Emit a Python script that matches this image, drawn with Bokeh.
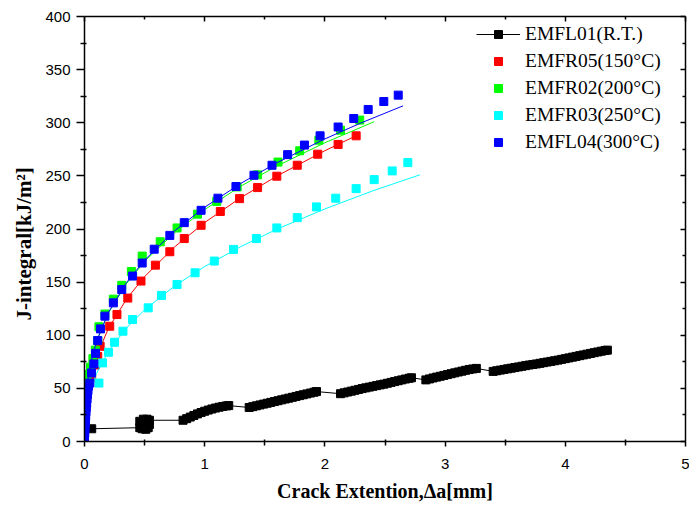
import math
from bokeh.plotting import figure
from bokeh.models import (LinearAxis, FixedTicker, Legend, LegendItem, Title, Range1d,
                          CustomJSTickFormatter)
from bokeh.embed import file_html
from bokeh.resources import INLINE

# ---------------- data ----------------
x_ticks = [0, 1, 2, 3, 4, 5]
x_minor = [0.5, 1.5, 2.5, 3.5, 4.5]
y_ticks = [0, 50, 100, 150, 200, 250, 300, 350, 400]
y_minor = [25, 75, 125, 175, 225, 275, 325, 375]

series_names = ["EMFL01(R.T.)", "EMFR05(150°C)", "EMFR02(200°C)", "EMFR03(250°C)", "EMFL04(300°C)"]

# EMFL01 (R.T.) - dense measured points
rt_x = [0.06,
        0.46, 0.48, 0.51, 0.53, 0.54, 0.51, 0.47, 0.46, 0.49, 0.52, 0.54,
        0.82, 0.85, 0.88, 0.91, 0.94, 0.97, 1.00, 1.03, 1.06, 1.09, 1.12, 1.15, 1.18, 1.20,
        1.37, 1.40, 1.43, 1.46, 1.49, 1.52, 1.55, 1.58, 1.61, 1.64, 1.67, 1.70, 1.73, 1.76, 1.79, 1.82, 1.85, 1.88, 1.91, 1.93,
        2.13, 2.16, 2.19, 2.22, 2.25, 2.28, 2.31, 2.34, 2.37, 2.40, 2.43, 2.46, 2.49, 2.52, 2.55, 2.58, 2.61, 2.64, 2.67, 2.70, 2.72,
        2.84, 2.87, 2.90, 2.93, 2.96, 2.99, 3.02, 3.05, 3.08, 3.11, 3.14, 3.17, 3.20, 3.23, 3.26,
        3.40, 3.43, 3.46, 3.49, 3.52, 3.55, 3.58, 3.61, 3.64, 3.67, 3.70, 3.73, 3.76, 3.79, 3.82, 3.85, 3.88,
        3.91, 3.94, 3.97, 4.00, 4.03, 4.06, 4.09, 4.12, 4.15, 4.18, 4.21, 4.24, 4.27, 4.30, 4.33, 4.35]
rt_j = [12,
        13, 12, 11.5, 13, 16, 17, 16, 19, 21, 21, 20,
        20, 21.5, 23, 24.5, 26, 27.3, 28.5, 29.6, 30.6, 31.5, 32.3, 33, 33.5, 33.8,
        32.0, 32.8, 33.6, 34.4, 35.2, 36.0, 36.8, 37.6, 38.4, 39.2, 40.0, 40.8, 41.6, 42.4, 43.2, 44.0, 44.8, 45.6, 46.4, 47.0,
        45.0, 45.8, 46.6, 47.4, 48.2, 49.0, 49.8, 50.5, 51.2, 51.9, 52.6, 53.3, 54.0, 54.8, 55.6, 56.4, 57.2, 58.0, 58.8, 59.5, 60.0,
        58.0, 58.9, 59.8, 60.6, 61.4, 62.2, 63.0, 63.8, 64.6, 65.4, 66.2, 67.0, 67.7, 68.3, 68.8,
        66.0, 66.6, 67.2, 67.8, 68.4, 69.0, 69.6, 70.2, 70.8, 71.4, 72.0, 72.5, 73.0, 73.6, 74.2, 74.8, 75.4,
        76.0, 76.6, 77.3, 78.0, 78.7, 79.4, 80.1, 80.8, 81.5, 82.2, 82.9, 83.6, 84.3, 85.0, 85.7, 86.0]

# EMFR05 (150 C)
red_x = [0.06, 0.09, 0.11, 0.13, 0.21, 0.27, 0.36, 0.47, 0.59, 0.71, 0.83, 0.97, 1.13, 1.29, 1.44, 1.60, 1.77, 1.94, 2.11, 2.26]
red_j = [60, 72, 80, 89.6, 108.5, 119.5, 135, 151, 166, 178.6, 191, 203.5, 216.5, 228.6, 239, 249.7, 260, 270.4, 279.6, 287.7]
red_fit_x = [0.02, 0.05, 0.1, 0.2, 0.35, 0.5, 0.75, 1.0, 1.3, 1.6, 2.0, 2.26]
red_fit_j = [41.5, 60.4, 80.3, 106.6, 134.1, 155.2, 183.2, 206.1, 229.5, 249.8, 273.7, 287.8]

# EMFR02 (200 C)
green_x = [0.015, 0.022, 0.05, 0.07, 0.09, 0.11, 0.12, 0.17, 0.24, 0.31, 0.39, 0.48, 0.63, 0.77, 0.94, 1.10, 1.27, 1.44, 1.61, 1.79, 1.95, 2.13, 2.29]
green_j = [56, 63, 70, 78, 86, 95, 108, 120, 134, 147, 160, 174.5, 188, 201, 214, 226, 239.6, 251, 263, 273.6, 283.6, 293, 302.5]
green_fit_x = [0.02, 0.05, 0.1, 0.2, 0.35, 0.5, 0.75, 1.0, 1.3, 1.6, 2.0, 2.41]
green_fit_j = [52.3, 73, 94.1, 121.2, 148.7, 169.5, 196.5, 218.3, 240.3, 259.2, 281.2, 301]

# EMFR03 (250 C)
cyan_x = [0.12, 0.15, 0.20, 0.25, 0.32, 0.40, 0.53, 0.64, 0.77, 0.92, 1.08, 1.24, 1.43, 1.60, 1.77, 1.93, 2.09, 2.26, 2.41, 2.56, 2.69]
cyan_j = [55, 74, 84, 93.4, 103.8, 114.8, 125.8, 137.5, 147.8, 158.8, 169.8, 180.8, 191, 201, 210.7, 220.8, 229, 238, 246.5, 254.7, 262.5]
cyan_fit_x = [0.02, 0.05, 0.1, 0.2, 0.35, 0.5, 0.75, 1.0, 1.3, 1.6, 2.0, 2.4, 2.79]
cyan_fit_j = [33, 48.1, 64, 85.1, 107, 123.9, 146.4, 164.7, 183.4, 199.8, 218.9, 236, 251]

# EMFL04 (300 C)
blue_x = [0.000, 0.000, 0.002, 0.004, 0.006, 0.008, 0.010, 0.012, 0.015, 0.018, 0.021, 0.025, 0.029, 0.033,
          0.044, 0.058, 0.078, 0.092, 0.11, 0.133, 0.17, 0.24, 0.31, 0.40, 0.48, 0.58, 0.71, 0.83, 0.97,
          1.11, 1.26, 1.41, 1.56, 1.69, 1.83, 1.96, 2.11, 2.24, 2.36, 2.49, 2.61]
blue_j = [0, 4, 8, 12, 16, 20, 24, 28, 32, 36, 40, 44, 48, 52,
          55, 64.5, 73, 83, 95, 106, 118, 130.5, 143, 155.7, 168, 181, 194, 206, 217.6,
          229, 240, 250.6, 260, 270, 279, 287.7, 296, 304, 312.5, 320, 326]
blue_fit_x = [0.02, 0.05, 0.1, 0.2, 0.35, 0.5, 0.75, 1.0, 1.3, 1.6, 2.0, 2.3, 2.65]
blue_fit_j = [52, 73, 94.3, 121.7, 149.7, 170.7, 198.3, 220.5, 242.9, 262.3, 284.8, 299.8, 315.9]

# ---------------- figure ----------------
p = figure(width=689, height=507, output_backend="svg", toolbar_location=None,
           x_range=Range1d(0, 5), y_range=Range1d(0, 400),
           min_border_left=84, min_border_right=4, min_border_top=16, min_border_bottom=66)
p.grid.visible = False
p.outline_line_color = None
p.background_fill_color = "white"

TICK_FONT = "Liberation Sans"
SERIF = "Liberation Serif"

xa = p.xaxis[0]
xa.ticker = FixedTicker(ticks=x_ticks, minor_ticks=x_minor)
xa.axis_label = "Crack Extention,Δa[mm]"
xa.axis_label_text_font = SERIF
xa.axis_label_text_font_style = "bold"
xa.axis_label_text_font_size = "20px"
xa.axis_label_text_color = "black"
xa.axis_label_standoff = 8
xa.major_label_text_font = TICK_FONT
xa.major_label_text_font_size = "15px"
xa.major_label_standoff = 12

ya = p.yaxis[0]
ya.ticker = FixedTicker(ticks=y_ticks, minor_ticks=y_minor)
ya.major_label_text_font = TICK_FONT
ya.major_label_text_font_size = "15px"
ya.major_label_standoff = 6

for ax, out in ((xa, 5), (ya, 8)):
    ax.axis_line_width = 1.5
    ax.axis_line_color = "black"
    ax.major_tick_line_width = 1.5
    ax.minor_tick_line_width = 1.5
    ax.major_tick_line_color = "black"
    ax.minor_tick_line_color = "black"
    ax.major_tick_out = out
    ax.major_tick_in = 0
    ax.minor_tick_out = 4
    ax.minor_tick_in = 2
    ax.major_label_text_color = "black"

blank = CustomJSTickFormatter(code="return '';")
top = LinearAxis(ticker=FixedTicker(ticks=x_ticks, minor_ticks=x_minor), formatter=blank)
right = LinearAxis(ticker=FixedTicker(ticks=y_ticks, minor_ticks=y_minor), formatter=blank)
for ax in (top, right):
    ax.axis_line_width = 1.5
    ax.axis_line_color = "black"
    ax.major_tick_line_width = 1.5
    ax.minor_tick_line_width = 1.5
    ax.major_tick_out = 0
    ax.major_tick_in = 5
    ax.minor_tick_out = 0
    ax.minor_tick_in = 3
    ax.major_label_standoff = 0
p.add_layout(top, "above")
p.add_layout(right, "right")

# y axis title, placed a little below the frame centre as in the original
p.add_layout(Title(text="J-integral[kJ/m²]", text_font=SERIF, text_font_style="bold",
                   text_font_size="21px", align="left", offset=121, standoff=13,
                   text_color="black"), "left")

MS = 8
rt_line = p.line(rt_x, rt_j, line_color="black", line_width=1)
rt_pts = p.scatter(rt_x, rt_j, marker="square", size=MS, fill_color="black", line_color="black")

p.line(red_fit_x, red_fit_j, line_color="#FF0000", line_width=1)
red_pts = p.scatter(red_x, red_j, marker="square", size=MS, fill_color="#FF0000", line_color="#FF0000")

p.line(green_fit_x, green_fit_j, line_color="#00FF00", line_width=1)
green_pts = p.scatter(green_x, green_j, marker="square", size=MS, fill_color="#00FF00", line_color="#00FF00")

p.line(cyan_fit_x, cyan_fit_j, line_color="#00FFFF", line_width=1)
cyan_pts = p.scatter(cyan_x, cyan_j, marker="square", size=MS, fill_color="#00FFFF", line_color="#00FFFF")

p.line(blue_fit_x, blue_fit_j, line_color="#0000FF", line_width=1)
blue_pts = p.scatter(blue_x, blue_j, marker="square", size=MS, fill_color="#0000FF", line_color="#0000FF")

legend = Legend(items=[
    LegendItem(label=series_names[0], renderers=[rt_line, rt_pts]),
    LegendItem(label=series_names[1], renderers=[red_pts]),
    LegendItem(label=series_names[2], renderers=[green_pts]),
    LegendItem(label=series_names[3], renderers=[cyan_pts]),
    LegendItem(label=series_names[4], renderers=[blue_pts]),
], location=(392, 288), orientation="vertical")
legend.label_text_font = SERIF
legend.label_text_font_size = "19.5px"
legend.label_text_color = "black"
legend.glyph_width = 44
legend.glyph_height = 20
legend.label_height = 20
legend.label_standoff = 5
legend.spacing = 5
legend.padding = 0
legend.margin = 0
legend.border_line_alpha = 0
legend.background_fill_alpha = 0
p.add_layout(legend, "center")

open("out.html", "w").write(file_html(p, INLINE))
